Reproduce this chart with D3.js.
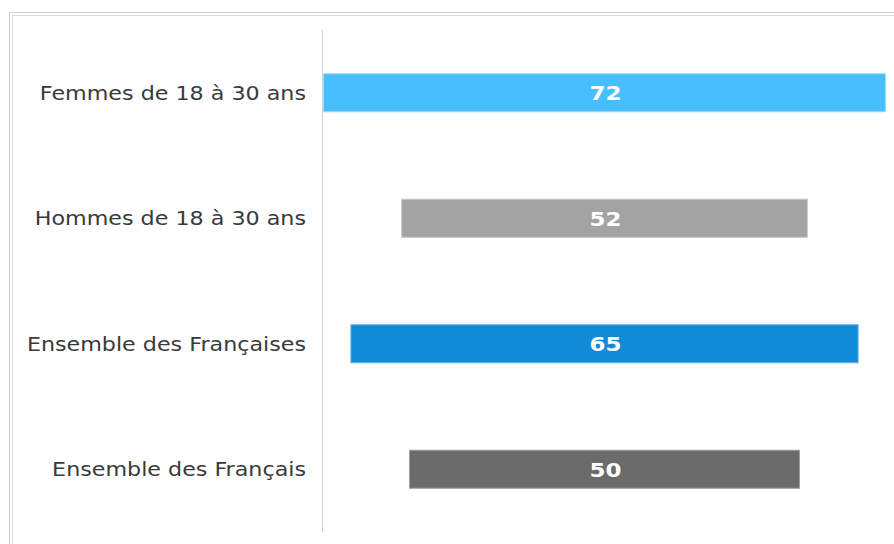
<!DOCTYPE html>
<html>
<head>
<meta charset="utf-8">
<script src="https://cdn.jsdelivr.net/npm/d3@7"></script>
<style>
  html, body { margin: 0; padding: 0; background: #fff; }
  svg { display: block; }
</style>
</head>
<body>
<svg id="chart" width="894" height="544"></svg>
<script>
const categories = ["Femmes de 18 à 30 ans", "Hommes de 18 à 30 ans", "Ensemble des Françaises", "Ensemble des Français"];
const values = [72, 52, 65, 50];
const colors = ["#47bffe", "#a3a3a3", "#128cd8", "#6b6b6b"];
const strokes = ["#9bdcfe", "#c6c6c6", "#6cb6e6", "#a0a0a0"];

const svg = d3.select("#chart");
const W = 894, H = 544;

// frame (double grey line)
svg.append("path").attr("d", `M9.5,${H} V12.5 H${W}`).attr("fill", "none").attr("stroke", "#d0d0d0").attr("stroke-width", 1);
svg.append("path").attr("d", `M12.5,${H} V15.5 H${W}`).attr("fill", "none").attr("stroke", "#dcdcdc").attr("stroke-width", 1);

const maxV = d3.max(values);
const x = d3.scaleLinear().domain([-maxV, maxV]).range([323, 886]);
const y = d3.scaleBand().domain(categories).range([30, 532]).paddingInner(0.689).paddingOuter(0.3445);

// axis line
svg.append("line").attr("x1", 322.5).attr("x2", 322.5).attr("y1", 30).attr("y2", 532)
  .attr("stroke", "#d4d4d4").attr("stroke-width", 1);

const data = categories.map((c, i) => ({ c, v: values[i], color: colors[i], stroke: strokes[i] }));

svg.selectAll("rect.bar").data(data).join("rect")
  .attr("class", "bar")
  .attr("x", d => x(-d.v) + 0.5)
  .attr("width", d => x(d.v) - x(-d.v) - 1)
  .attr("y", d => y(d.c) + 0.5)
  .attr("height", y.bandwidth() - 1)
  .attr("fill", d => d.color)
  .attr("stroke", d => d.stroke)
  .attr("stroke-width", 1);

svg.selectAll("text.val").data(data).join("text")
  .attr("class", "val")
  .attr("transform", d => `translate(${x(0) + 1},${y(d.c) + y.bandwidth() / 2}) scale(1.15,1)`)
  .attr("dy", "0.37em")
  .attr("text-anchor", "middle")
  .attr("font-family", "DejaVu Sans, Verdana, sans-serif")
  .attr("font-weight", "bold")
  .attr("font-size", 20)
  .attr("fill", "#ffffff")
  .text(d => d.v);

svg.selectAll("text.cat").data(data).join("text")
  .attr("class", "cat")
  .attr("transform", d => `translate(306,${y(d.c) + y.bandwidth() / 2}) scale(1.17,1)`)
  .attr("dy", "0.37em")
  .attr("text-anchor", "end")
  .attr("font-family", "DejaVu Sans, Verdana, sans-serif")
  .attr("font-size", 19)
  .attr("fill", "#3a3a3a")
  .text(d => d.c);
</script>
</body>
</html>
